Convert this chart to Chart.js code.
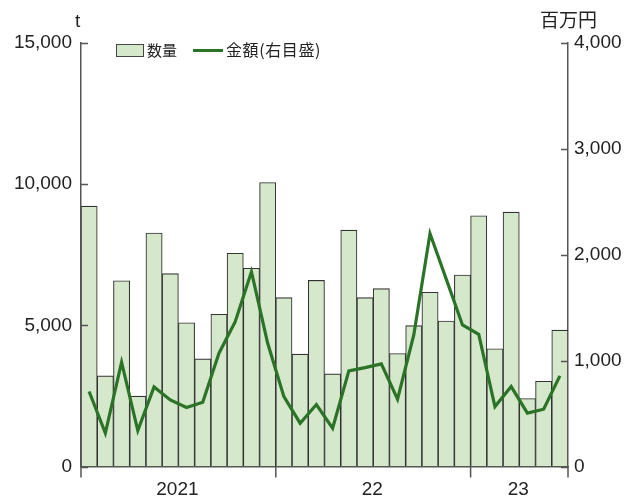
<!DOCTYPE html>
<html lang="ja">
<head>
<meta charset="utf-8">
<script src="https://cdn.jsdelivr.net/npm/chart.js@4/dist/chart.umd.min.js"></script>
<style>
  html, body { margin: 0; padding: 0; background: #fff; }
  #wrap { position: relative; width: 638px; height: 497px; overflow: hidden; }
  #chart { position: absolute; left: 0; top: 0; }
  .txt { position: absolute; color: #222; white-space: nowrap; line-height: 1; }
  .num { font-family: 'Liberation Sans', Arial, sans-serif; font-size: 19px; }
  .jp { font-family: 'Noto Sans CJK JP', sans-serif; }
  .box { position: absolute; left: 116px; top: 44px; width: 26px; height: 11px; background: #d6e8cb; border: 1.3px solid #444; }
  .ln { position: absolute; left: 193px; top: 49px; width: 30px; height: 3px; background: #2a7327; }
</style>
</head>
<body>
<div id="wrap">
  <canvas id="chart" width="638" height="497"></canvas>
  <div class="txt num" style="left:75px; top:11px;">t</div>
  <div class="txt jp" style="left:540px; top:9px; font-size:19px;">百万円</div>
  <div class="box"></div>
  <div class="txt jp" style="left:147px; top:42px; font-size:15px;">数量</div>
  <div class="ln"></div>
  <div class="txt jp" style="left:226px; top:41px; font-size:16px; letter-spacing:0.6px;">金額(右目盛)</div>
</div>
<script>
const $ = (sel) => document.querySelector(sel);

// monthly, 2021-01 .. 2023-06
const months = [
  '2021-01', '2021-02', '2021-03', '2021-04', '2021-05', '2021-06',
  '2021-07', '2021-08', '2021-09', '2021-10', '2021-11', '2021-12',
  '2022-01', '2022-02', '2022-03', '2022-04', '2022-05', '2022-06',
  '2022-07', '2022-08', '2022-09', '2022-10', '2022-11', '2022-12',
  '2023-01', '2023-02', '2023-03', '2023-04', '2023-05', '2023-06',
];
const volumeT = [
  9220, 3210, 6580, 2490, 8270, 6830, 5090, 3810, 5390, 7550, 7020, 10060,
  5980, 3980, 6590, 3280, 8370, 5980, 6300, 4000, 4990, 6170, 5150, 6780,
  8880, 4170, 9010, 2410, 3020, 4830,
];
const valueM = [
  708, 315, 985, 340, 752, 629, 557, 607, 1070, 1368, 1840, 1164,
  660, 409, 585, 362, 903, 934, 969, 636, 1242, 2200, 1770, 1337,
  1249, 566, 755, 504, 541, 856,
];
const yearLabels = ['2021', '22', '23'];
const yearCenters = [5.5, 17.5, 26.5];   // category index of each year's middle
const yearBounds = [-0.5, 11.5, 23.5, 29.5];
const leftTicks = [0, 5000, 10000, 15000];
const rightTicks = [0, 1000, 2000, 3000, 4000];

const INK = '#222';
const AXIS = '#555';
const FONT = { family: "'Liberation Sans', Arial, sans-serif", size: 19 };

// inward ticks on both y axes, year ticks and labels under the x axis
const axisMarks = {
  id: 'axisMarks',
  afterDatasetsDraw(chart) {
    const { ctx, chartArea: a, scales } = chart;
    ctx.save();
    ctx.strokeStyle = AXIS;
    ctx.lineWidth = 1.5;
    ctx.beginPath();
    leftTicks.forEach((v) => {
      const y = Math.round(scales.y.getPixelForValue(v)) + 0.5;
      ctx.moveTo(a.left, y);
      ctx.lineTo(a.left + 7, y);
    });
    rightTicks.forEach((v) => {
      const y = Math.round(scales.y1.getPixelForValue(v)) + 0.5;
      ctx.moveTo(a.right, y);
      ctx.lineTo(a.right - 7, y);
    });
    yearBounds.forEach((i) => {
      const x = scales.x.getPixelForValue(i);
      ctx.moveTo(x, a.bottom);
      ctx.lineTo(x, a.bottom + 11);
    });
    ctx.stroke();
    ctx.fillStyle = INK;
    ctx.font = `${FONT.size}px ${FONT.family}`;
    ctx.textAlign = 'center';
    ctx.textBaseline = 'alphabetic';
    yearLabels.forEach((t, k) => {
      ctx.fillText(t, scales.x.getPixelForValue(yearCenters[k]) - 1, 495);
    });
    ctx.restore();
  },
};

new Chart($('#chart'), {
  data: {
    labels: months,
    datasets: [
      {
        type: 'line',
        label: '金額(右目盛)',
        data: valueM,
        yAxisID: 'y1',
        borderColor: '#2a7327',
        borderWidth: 3.2,
        pointRadius: 0,
        tension: 0,
        order: 0,
      },
      {
        type: 'bar',
        label: '数量',
        data: volumeT,
        yAxisID: 'y',
        backgroundColor: '#d6e8cb',
        borderColor: '#333',
        borderWidth: 1.1,
        categoryPercentage: 1,
        barPercentage: 1,
        order: 1,
      },
    ],
  },
  options: {
    responsive: false,
    animation: false,
    layout: { padding: { top: 43, left: 0, right: 0, bottom: 0 } },
    plugins: { legend: { display: false }, tooltip: { enabled: false } },
    scales: {
      x: {
        offset: true,
        grid: { display: false, drawTicks: false },
        border: { display: true, color: AXIS, width: 1.5 },
        ticks: { display: false },
        afterFit: (s) => { s.height = 30.5; },
      },
      y: {
        position: 'left',
        min: 0,
        max: 15000,
        afterBuildTicks: (s) => { s.ticks = leftTicks.map((v) => ({ value: v })); },
        grid: { drawOnChartArea: false, drawTicks: false },
        border: { display: true, color: AXIS, width: 1.5 },
        ticks: { color: INK, font: FONT, padding: 9, callback: (v) => v.toLocaleString('en-US') },
        afterFit: (s) => { s.width = 81; },
      },
      y1: {
        position: 'right',
        min: 0,
        max: 4000,
        afterBuildTicks: (s) => { s.ticks = rightTicks.map((v) => ({ value: v })); },
        grid: { drawOnChartArea: false, drawTicks: false },
        border: { display: true, color: AXIS, width: 1.5 },
        ticks: { color: INK, font: FONT, padding: 6, callback: (v) => v.toLocaleString('en-US') },
        afterFit: (s) => { s.width = 70; },
      },
    },
  },
  plugins: [axisMarks],
});
</script>
</body>
</html>
